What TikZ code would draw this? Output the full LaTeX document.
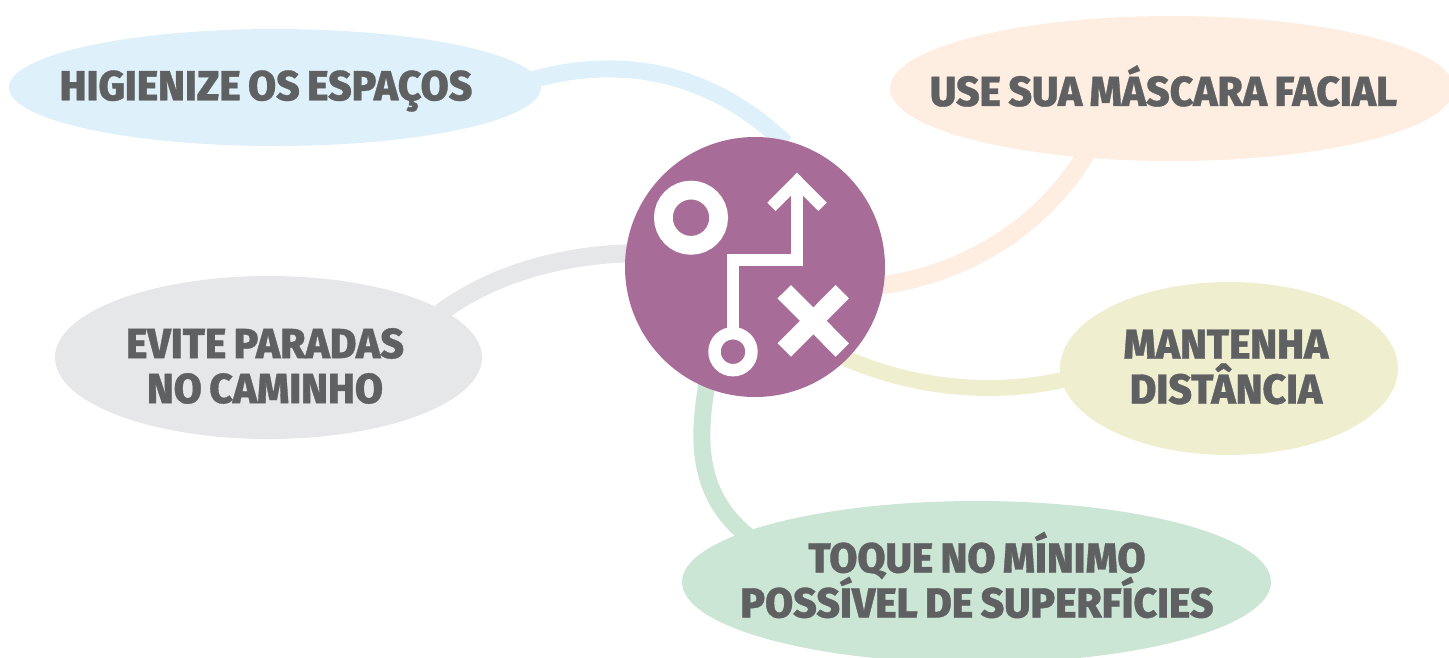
\documentclass[tikz,border=0pt]{standalone}
\usepackage{fontspec}
\setmainfont{Fira Sans}[BoldFont={Fira Sans ExtraBold},BoldFeatures={FakeStretch=0.97,FakeBold=0.8,WordSpace=0.8}]
\usetikzlibrary{shapes.geometric,backgrounds}
\definecolor{cblue}{HTML}{DEF0FA}
\definecolor{cpeach}{HTML}{FEEDE1}
\definecolor{cyellow}{HTML}{EFEFD0}
\definecolor{cgrey}{HTML}{E6E7E8}
\definecolor{cgreen}{HTML}{CCE6D5}
\definecolor{cpurple}{HTML}{A86C98}
\definecolor{ctext}{HTML}{5F6062}
\AtBeginDocument{\lineskiplimit=-100pt\relax}
\tikzset{
  bubble/.style={ellipse,inner sep=0pt,outer sep=0pt,draw=none},
  lbl/.style={inner sep=0pt,outer sep=0pt,align=center,text=ctext,font=\fontsize{42}{45}\selectfont\bfseries},
  link/.style={line width=#1,shorten <=-5pt,shorten >=-5pt},
  ico/.style={fill=white,draw=none},
}
\begin{document}
\begin{tikzpicture}[x=1pt,y=-1pt]
\useasboundingbox (0,0) rectangle (1449,657);
\clip (0,0) rectangle (1449,657);
\node[bubble,fill=cblue,minimum width=532pt,minimum height=117pt] (blue) at (275,87.5) {};
\node[bubble,fill=cpeach,minimum width=564pt,minimum height=145pt] (peach) at (1172,88.5) {};
\node[bubble,fill=cyellow,minimum width=338pt,minimum height=173pt] (yellow) at (1229,368.5) {};
\node[bubble,fill=cgrey,minimum width=427pt,minimum height=163pt] (grey) at (268.5,357.5) {};
\node[bubble,fill=cgreen,minimum width=589pt,minimum height=162pt] (green) at (976.5,582) {};
\node[circle,fill=cpurple,inner sep=0pt,outer sep=0pt,minimum size=260pt] (hub) at (755,267) {};
\begin{scope}[on background layer]
\draw[link=17pt,cblue] (blue.2.6) .. controls (640,50) and (725,85) .. (hub.78);
\draw[link=18pt,cpeach] (hub.-8) .. controls (980,272) and (1050,215) .. (peach.-142.6);
\draw[link=16pt,cyellow] (hub.-45) .. controls (910,387) and (990,397) .. (yellow.-176);
\draw[link=18pt,cgrey] (hub.174) .. controls (560,255) and (490,275) .. (grey.15.5);
\draw[link=17pt,cgreen] (hub.-112) .. controls (697,440) and (697,495) .. (green.168);
\end{scope}
% icon
\node[circle,draw=white,line width=18.7pt,inner sep=0pt,outer sep=0pt,minimum size=55.3pt] (ringa) at (691,217.7) {};
\node[circle,draw=white,line width=12.4pt,inner sep=0pt,outer sep=0pt,minimum size=37pt] (ringb) at (733,351.7) {};
\coordinate (p1) at (733,260.3);
\coordinate (p2) at (797,260.3);
\coordinate (p3) at (797,180);
\draw[white,line width=12.3pt,line join=miter] (ringb.north) -- (p1) -- (p2) -- (p3);
\fill[ico] (767.3,202.7) -- (797,172.7) -- (826.7,202.7) -- (818.3,211) -- (797,189.5) -- (775.7,211) -- cycle;
\draw[white,line width=18.9pt] (784.3,291.7) -- (842.3,350);
\draw[white,line width=18.9pt] (842.3,291.7) -- (784.3,350);
% labels
\node[lbl] (tblue) at (266,91) {HIGIENIZE OS ESPAÇOS};
\node[lbl] (tpeach) at (1163.5,86) {USE SUA MÁSCARA FACIAL};
\node[lbl] (tyellow) at (1226,367) {MANTENHA\\DISTÂNCIA};
\node[lbl] (tgrey) at (265,366) {EVITE PARADAS\\NO CAMINHO};
\node[lbl] (tgreen) at (977,575) {TOQUE NO MÍNIMO\\POSSÍVEL DE SUPERFÍCIES};
\end{tikzpicture}
\end{document}
